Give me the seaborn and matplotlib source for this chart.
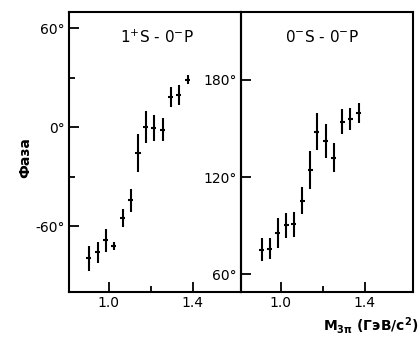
import numpy as np
import matplotlib
matplotlib.use("Agg")
import matplotlib.pyplot as plt
import seaborn as sns

sns.set_theme(style="ticks")
plt.rcParams['font.family'] = ['DejaVu Sans']
plt.rcParams['text.color'] = 'black'
plt.rcParams['xtick.color'] = 'black'
plt.rcParams['ytick.color'] = 'black'

# 1+S - 0-P phase difference (left panel)
mass_left = [0.905, 0.948, 0.986, 1.024, 1.067, 1.105, 1.139, 1.177, 1.215, 1.258, 1.296, 1.334, 1.377]
phase_left = [-79.5, -75.8, -68.5, -72.2, -55.1, -44.2, -15.5, 0.3, -0.3, -1.5, 18.6, 19.8, 29.0]
err_left = [7.6, 6.4, 7.0, 2.4, 5.6, 7.0, 11.5, 9.7, 8.0, 7.0, 6.0, 6.0, 3.0]

# 0-S - 0-P phase difference (right panel)
mass_right = [0.908, 0.947, 0.986, 1.026, 1.061, 1.101, 1.140, 1.170, 1.214, 1.253, 1.293, 1.332, 1.371]
phase_right = [75.2, 75.8, 85.4, 90.1, 90.8, 105.5, 124.6, 148.1, 142.4, 132.1, 154.3, 155.8, 159.8]
err_right = [7.2, 6.7, 9.2, 7.7, 7.7, 8.2, 11.7, 11.3, 10.3, 9.2, 7.7, 6.7, 6.2]

mass_err = 0.012

fig = plt.figure(figsize=(4.2, 3.42), dpi=100)
ax1 = fig.add_axes([69/420, 50/342, 172/420, 280/342])
ax2 = fig.add_axes([241/420, 50/342, 172/420, 280/342])

for ax, m, p, e in [(ax1, mass_left, phase_left, err_left),
                    (ax2, mass_right, phase_right, err_right)]:
    ax.errorbar(m, p, yerr=e, xerr=mass_err, fmt='none', ecolor='black',
                elinewidth=1.5, capsize=0)
    ax.set_xlim(0.81, 1.63)
    ax.set_xticks([1.0, 1.4])
    ax.set_xticklabels(['1.0', '1.4'], fontsize=10)
    ax.set_xticks([1.2], minor=True)
    ax.tick_params(axis='both', which='major', direction='in', length=7, width=1.3,
                   colors='black', labelcolor='black', labelsize=10, pad=3)
    ax.tick_params(axis='both', which='minor', direction='in', length=4, width=1.3,
                   colors='black')
    for s in ax.spines.values():
        s.set_linewidth(1.5)
        s.set_color('black')
    ax.patch.set_alpha(0)

ax1.set_ylim(-100, 70)
ax1.set_yticks([-60, 0, 60])
ax1.set_yticklabels(['-60°', '0°', '60°'])
ax1.set_yticks([-30, 30], minor=True)
ax1.text(0.51, 0.91, r'1$^{+}$S - 0$^{-}$P', transform=ax1.transAxes,
         ha='center', va='center', fontsize=11, color='black')

ax2.set_ylim(49, 222)
ax2.set_yticks([60, 120, 180])
ax2.set_yticklabels(['60°', '120°', '180°'])
ax2.set_yticks([], minor=True)
ax2.text(0.47, 0.91, r'0$^{-}$S - 0$^{-}$P', transform=ax2.transAxes,
         ha='center', va='center', fontsize=11, color='black')

fig.text(25/420, 1 - 158/342, 'Фаза', rotation=90, ha='center', va='center',
         fontsize=10, fontweight='bold', color='black')
fig.text(418/420, 1 - 325/342, r'M$_{\mathbf{3\pi}}$ (ГэВ/c$^{\mathbf{2}}$)', ha='right', va='center',
         fontsize=10, fontweight='bold', color='black')

fig.savefig('out.png', dpi=100, facecolor='white')
